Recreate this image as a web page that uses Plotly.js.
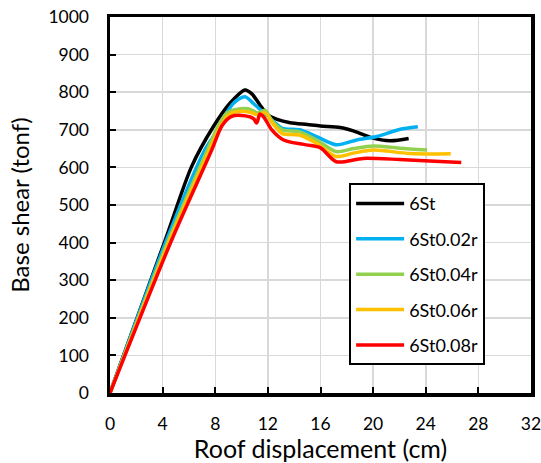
<!DOCTYPE html>
<html>
<head>
<meta charset="utf-8">
<script src="https://cdn.plot.ly/plotly-3.0.1.min.js"></script>
<style>html,body{margin:0;padding:0;background:#fff;}#chart{width:541px;height:463px;}</style>
</head>
<body>
<div id="chart"></div>
<script>
const seriesNames = ["6St", "6St0.02r", "6St0.04r", "6St0.06r", "6St0.08r"];

const x6St = [0, 4.2, 6.2, 7.85, 9.1, 10.26, 10.8, 11.4, 12.0, 12.7, 13.7, 15, 16, 17.5, 18.5, 19.8, 21.3, 22.7];
const y6St = [0, 407, 602, 708, 770, 806, 795, 766, 740, 728, 719, 714, 710, 706, 697, 680, 671, 677];

const x002 = [0, 4.3, 7.2, 7.85, 9.37, 10.26, 10.9, 11.6, 12.6, 13.1, 14.4, 15.7, 17.2, 18.75, 20.27, 22.0, 23.4];
const y002 = [0, 407, 646, 682, 770, 788, 770, 748, 717, 704, 700, 682, 660, 673, 682, 701, 708];

const x004 = [0, 4.45, 7.4, 8.3, 8.9, 9.6, 10.5, 11.25, 11.78, 12.3, 13.1, 14.4, 15.7, 17.2, 18.5, 20.0, 22.0, 24.1];
const y004 = [0, 407, 646, 715, 745, 754, 756, 745, 752, 725, 700, 695, 673, 642, 650, 657, 651, 646];

const x006 = [0, 4.55, 7.55, 8.4, 9.0, 9.6, 10.5, 11.2, 11.8, 12.3, 13.1, 14.4, 15.7, 17.2, 18.5, 20.0, 22.8, 25.9];
const y006 = [0, 407, 646, 710, 740, 748, 748, 740, 745, 720, 690, 686, 664, 629, 638, 646, 637, 636];

const x008 = [0, 4.69, 7.73, 8.5, 9.2, 10.3, 10.9, 11.15, 11.4, 11.7, 12.3, 13.2, 14.9, 16, 17.2, 19.25, 22, 24.3, 26.7];
const y008 = [0, 407, 646, 710, 735, 737, 730, 718, 742, 733, 700, 673, 660, 652, 615, 624, 621, 617, 613];

const xTicks = [0, 4, 8, 12, 16, 20, 24, 28, 32];
const yTicks = [0, 100, 200, 300, 400, 500, 600, 700, 800, 900, 1000];

const colors = ["#000000", "#00b0f0", "#92d050", "#ffc000", "#ff0000"];
const xs = [x6St, x002, x004, x006, x008];
const ys = [y6St, y002, y004, y006, y008];

const traces = seriesNames.map((n, i) => ({
  x: xs[i], y: ys[i], name: n, type: "scatter", mode: "lines",
  legendgroup: "g" + i,
  line: {color: colors[i], width: 3.5, shape: "spline", smoothing: 0.8}
}));

const font = "Lato, 'Open Sans', sans-serif";
const layout = {
  width: 541, height: 463,
  margin: {l: 110, r: 10, t: 17, b: 70},
  paper_bgcolor: "#fff", plot_bgcolor: "#fff",
  font: {family: font, color: "#000"},
  showlegend: true,
  legend: {
    x: 0.568, y: 0.558, xanchor: "left", yanchor: "top",
    bgcolor: "#fff", bordercolor: "#000", borderwidth: 2,
    font: {family: font, size: 18, color: "#000"},
    traceorder: "grouped", tracegroupgap: 9,
    itemwidth: 48
  },
  xaxis: {
    range: [0, 32], tickvals: xTicks, ticktext: xTicks.map(String),
    showgrid: true, gridcolor: "#d9d9d9", gridwidth: 1.5,
    showline: true, linecolor: "#000", linewidth: 3.5, mirror: true,
    ticks: "inside", ticklen: 6, tickwidth: 2, tickcolor: "#000",
    ticklabelstandoff: 12, ticklabeloverflow: "allow",
    zeroline: false,
    tickfont: {family: font, size: 17.5, color: "#000"},
    title: {text: "Roof displacement (cm)", font: {family: font, size: 25, color: "#000"}, standoff: 9}
  },
  yaxis: {
    range: [0, 1000], tickvals: yTicks, ticktext: yTicks.map(String),
    showgrid: true, gridcolor: "#d9d9d9", gridwidth: 1.5,
    showline: true, linecolor: "#000", linewidth: 3.5, mirror: true,
    ticks: "inside", ticklen: 6, tickwidth: 2, tickcolor: "#000",
    ticklabelstandoff: 14, ticklabeloverflow: "allow",
    zeroline: false,
    tickfont: {family: font, size: 17.5, color: "#000"},
    title: {text: "Base shear (tonf)", font: {family: font, size: 24, color: "#000"}, standoff: 13}
  }
};

Plotly.newPlot("chart", traces, layout, {displayModeBar: false, staticPlot: true});
</script>
</body>
</html>
